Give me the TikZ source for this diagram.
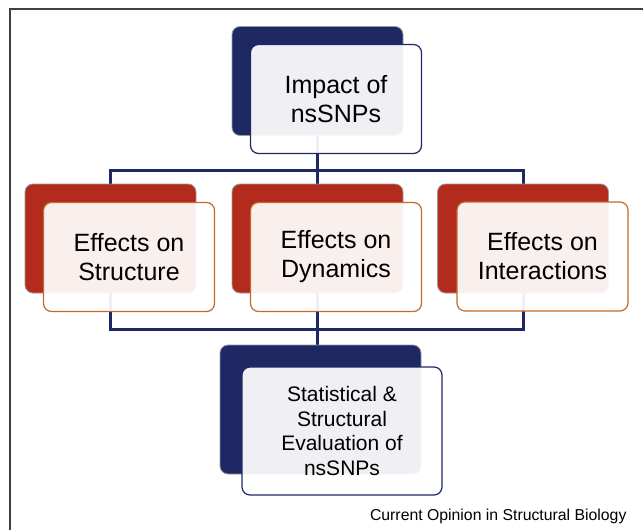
\documentclass[tikz,border=0pt]{standalone}
\usepackage{fontspec}
\setmainfont{Liberation Sans}
\usetikzlibrary{backgrounds}
\definecolor{snpnavy}{HTML}{1E2964}
\definecolor{snpred}{HTML}{B22B1C}
\definecolor{snporange}{HTML}{C46A26}
\definecolor{snpedge}{HTML}{9A9A9A}
\begin{document}
\begin{tikzpicture}[x=1pt, y=-1pt,
    box/.style = {shape=rectangle, rounded corners=8pt, inner sep=0pt,
      minimum width=171pt, minimum height=109pt},
    navyback/.style = {box, fill=snpnavy, draw=snpedge, line width=0.8pt},
    redback/.style = {box, fill=snpred, draw=snpedge, line width=0.8pt},
    front/.style = {box, fill=white, fill opacity=0.93, text opacity=1,
      line width=1.2pt, align=center, font=\fontsize{25}{29}\selectfont},
    navyfront/.style = {front, draw=snpnavy},
    redfront/.style = {front, draw=snporange},
    bus/.style = {draw=snpnavy, line width=3pt}]
  \useasboundingbox (0,0) rectangle (643,530);
  \draw[black!75, line width=2pt] (10,530) -- (10,9) -- (643,9);

  \node[navyback] (impactBack) at (317.5,81) {};
  \node[navyfront] (impact) at (336,99) {Impact of\\nsSNPs};

  \node[redback] (structBack) at (110.5,238.5) {};
  \node[redfront] (struct) at (129,257) {Effects on\\Structure};
  \node[redback] (dynBack) at (317.5,238.5) {};
  \node[redfront] (dyn) at (336,257) {Effects on\\Dynamics};
  \node[redback] (interBack) at (523,238.5) {};
  \node[redfront] (inter) at (542.5,256.5) {Effects on\\Interactions};

  \node[navyback, minimum width=201pt, minimum height=129pt] (evalBack) at (320.5,409.5) {};
  \node[navyfront, minimum width=200pt, minimum height=128pt,
    font=\fontsize{21}{24.5}\selectfont] (eval) at (342,431)
    {Statistical \&\\Structural\\Evaluation of\\nsSNPs};

  \node[anchor=base east, font=\fontsize{15.8}{18}\selectfont] (source) at (630,520)
    {Current Opinion in Structural Biology};

  \coordinate (busTop) at (317.5,170);
  \coordinate (busBot) at (317.5,329);
  \begin{pgfonlayer}{background}
    \draw[bus] (structBack.north) |- (busTop) -| (interBack.north);
    \draw[bus] (impactBack.south) -- (dynBack.north);
    \draw[bus] (structBack.south) |- (busBot) -| (interBack.south);
    \draw[bus] (dynBack.south) -- (dynBack.south |- evalBack.north);
  \end{pgfonlayer}
\end{tikzpicture}
\end{document}
